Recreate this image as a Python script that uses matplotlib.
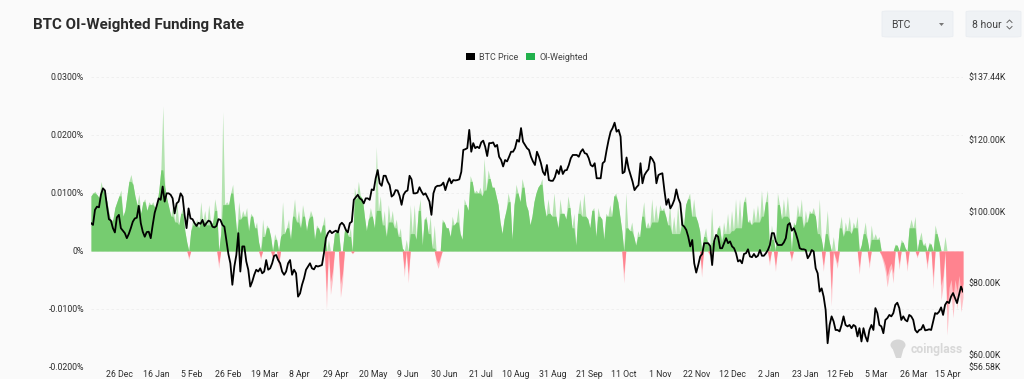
import matplotlib
matplotlib.use("Agg")
import matplotlib.pyplot as plt
import numpy as np
import pandas as pd
from matplotlib.lines import Line2D
from matplotlib.patches import Ellipse, FancyBboxPatch, Patch, Polygon

plt.rcParams['font.family'] = ['Roboto', 'DejaVu Sans']

# funding rate, in units of 0.001%
funding = [
    9.5, 10, 10.3, 9.7, 9.2, 12, 10.5, 9.8, 8.5, 6.5, 5, 5.5, 7.5, 8.5, 9.5, 10.5, 6, 7, 9.5, 12,
    13.2, 11.5, 9.5, 8, 9.8, 6.5, 8.5, 9, 7, 8.5, 8, 8.5, 7.5, 8, 10.5, 14, 25, 11, 9, 7.5,
    6, 8, 5, 8.5, 4.5, 6.5, 7.5, 3.5, 1.5, -1.5, 3.5, 5.5, 4.5, 5.5, 4,
    8.5, 5, 7, 4.5, 8, 4.5, 5, 9, 7, -3, 3, 24, 8, 8.5, 8, 10, 11.5, 7, 3, 8.5,
    5.5, 7, 6, 7.5, 3.5, 6.5, 6, 4, 5, 1.5, -1.5, 5.5, 2.5, 4.5, 4, 2.5, -1.4, 3, 2, -3,
    2.5, 8.5, 3, 4, 5.5, 2, 6, 9, 5, 7, 4, 8, 6, 3.5, 5.5,
    7, 6, 2, 4.5, 4, 3, 4.5, 6, -10, 2, -7.5, -5, 3, 3.5, 4, -8, -5.5, 3.5, 4, 2.5,
    4, -0.5, 11, 9, 12, 9.5, 9, 6, 3.5, 5.5, 7.5, 6, 4, 18, 7, 9.5, 4.5, 7, 2.5, 8,
    5, 7, 4, 5.5, 2.5, 4, 0.5, -4.5, 2, -5.5, 8, 3, 8, 2, 7,
    9, 1, 5.5, 6, 3, 6, 0.5, 4.5, -2, -3, -1.5, 5.5, 5, 4, 4, 2.5, 6, 4.5, 5, 7.5,
    3, 2, 9, 8, 7, 13, 12, 10, 10.5, 10, 11, 9.5, 16, 10.5, 14, 12.5, 11, 11, 9.5, 8,
    5, 3, 5.5, 7, 10, 8.5, 2, 8, 11.5, 10, 8.5, 12.5, 11, 8, 7,
    4.5, 6, 8.5, 10, 11, 11.5, 12.5, 8, 6, 9, 6.5, 6, 10, 6, 4, 9, 6.5, 6.5, 5.5, 9.5,
    7.5, 4, 6.5, 1, 6.5, 9, 6, 10, 6, 5.5, 4, 7, 7.5, 2.5, 7.5, 6, 5.5, 2, 6.5, 6,
    8, 6, 9.5, 10, 8.5, 6, 3.5, -5.5, 10, 4, 3.5, 5, 2.5, 1, 3.5,
    2.5, 6, 8.5, 4, 5, 4, 9, 5, 8, 5, 8, 7, 7.5, 6, 4.5, 8, 3, 6, 3, 8,
    3, 7, 4.5, 8, 9, 10, 6, 9, 6, 5, 3.5, -4.5, 2.5, 4, 1.5, -0.8, 7.5, 1.5, 2, 4,
    4.5, 1.5, 5, 3, 6.5, 3, 7, 3.5, 9, 4, 9, 4, 8.5, 9.5, 5,
    5.5, 4.5, 7.5, 5, 8, 5, 10.5, 6, 8.5, 10.5, -2.5, 4.5, 2, -3.5, 10, 8, 5.5, 9, 6, 9.5,
    5.5, -1.8, 5, 4.5, 8, 6, 9, 4, 7, 5, 7, 6.5, 7.5, 6, 3, 9, 2, -3.5, 3, 7,
    1.5, -9.5, 2.5, -1.5, -3, 4, 6, 2.5, 5, 3.5, 6, 3, 5, 4, 6,
    -4, 1, 3, 5, 2, -3, 4.5, 2, 3, 2, 2.5, -0.8, -2, -3.5, -6.2, -4, -3, -5.5, 1.2, 1,
    -3.2, 2, 1.5, 0.5, -3.5, 4, 5.5, 4, 6, -1.2, 2, 3.3, 1, 1.5, -3.2, 1.5, 1.2, -6.5, 4.5, 3,
    1.5, -8.5, -6, 2.5, -14.5, -9, -7, -11.5, -7, -10, -6, -10.5, -8,
]

# BTC price, in $K
price = [
    96.7, 96.2, 100.4, 101.3, 101.1, 104.6, 106.4, 105.8, 101.5, 97.8, 97.4, 95.3, 94.1, 98.3, 99, 95.3, 94.6, 93.9, 92.5, 93.7,
    95.3, 97.1, 98, 98.2, 101.5, 96.7, 94.3, 92.9, 94.2, 94.3, 92.5, 96.2, 99.6, 101.5, 103.6, 103.2, 106.9, 102.7, 105, 105,
    104.6, 103.6, 99.4, 102.2, 102.7, 105, 104.1, 99, 95.3, 100.8, 98, 97.8, 96.7, 95.9, 96.8,
    96.5, 97.6, 95.9, 96.7, 97.4, 97.1, 95.7, 95.5, 95.9, 97.8, 97.6, 96.2, 95.7, 92, 88.1, 85.5, 79.5, 84.6, 87.8, 93.9,
    83.2, 90.2, 90.2, 86, 83.7, 79, 80.4, 82.3, 83.7, 83.2, 84.1, 82.7, 83.2, 86.4, 83.7, 84.1, 85.5, 87.6, 87.8, 86.4,
    85.5, 83.2, 82.3, 83.2, 85.5, 86.4, 82.3, 83.7, 82.7, 76.2, 77.1, 79.5, 81.3, 83.7, 84.6,
    85.5, 84.1, 83.8, 84.8, 84.6, 84.8, 85, 88.3, 92.5, 93.9, 94.6, 93.9, 94.3, 94.6, 94.1, 96.2, 96.8, 96.2, 94.8, 94.1,
    96.7, 97.1, 103.2, 103.9, 104.6, 103.6, 103.2, 102.2, 103.6, 103.6, 103.2, 106.1, 105.9, 109.2, 111.5, 107.8, 107.1, 109.9, 109.9, 108.3,
    107.3, 104.1, 104.6, 105.9, 105.8, 104.3, 101.8, 104.6, 105.5, 105.8, 109.9, 108.9, 105, 105, 105.2,
    106.7, 105.5, 104.6, 105, 103.9, 102.7, 99, 105, 106.7, 107.1, 107.1, 107.3, 108, 105.9, 107.8, 109.2, 107.8, 108.7, 108.6, 108.7,
    108.9, 111, 117.1, 117.3, 117.6, 122.7, 116.6, 119, 117.6, 118, 117.6, 119.2, 119.7, 118, 115.4, 119, 119, 119.2, 118, 118.5,
    115.2, 114.3, 112.5, 114.3, 113.9, 115.2, 116.6, 116.6, 117.6, 119.9, 119.4, 123.2, 119.4, 118.5, 117.6,
    117.1, 115.2, 113.9, 112.9, 116.6, 115.2, 113.4, 111, 110.1, 112.9, 108.7, 108.5, 108.5, 109.5, 111.5, 110.4, 112.6, 110.4, 111.4, 111.5,
    112.9, 114.8, 115.7, 115.7, 115.7, 115.2, 116.6, 117.3, 116.2, 116, 114.8, 112.9, 112.5, 113.4, 109.2, 109.2, 109.2, 113.4, 113.9, 117.1,
    119.9, 122.2, 123.2, 124.7, 122.2, 122.7, 120.8, 110.6, 111, 115, 112, 110.1, 108.3, 105.9, 106.7,
    107.3, 113.4, 107.8, 110.1, 111, 111.7, 115.2, 114.5, 113.4, 107.8, 110.1, 110.4, 110.6, 105.9, 101.8, 103.4, 100.8, 101.8, 103.2, 106.1,
    103.6, 102.2, 96.2, 95.7, 94.8, 92.9, 90.2, 92, 85.5, 82.9, 85, 87.4, 88.1, 91.1, 91.1, 91.1, 90.3, 85, 91.6, 93.4,
    92.9, 89.7, 89.7, 91.1, 92.5, 91.1, 91.6, 90.2, 89.7, 88.3, 86, 86.4, 85.5, 88.1, 88.3,
    89.4, 87.4, 87.2, 88.1, 87.2, 87.6, 89.2, 87.6, 87.6, 88.3, 89.2, 90.6, 93.9, 93.9, 91.6, 90.6, 90.6, 90.6, 91.3, 92.5,
    96.2, 96.7, 94.6, 95.3, 93.9, 92, 89.7, 89.4, 89.4, 89.2, 86.9, 87.8, 89.2, 88.8, 84.1, 82.7, 77.6, 78.5, 76.2, 72.5,
    63.2, 68.3, 70.7, 69.3, 66.9, 66.9, 66.5, 68.3, 70.7, 68.3, 67.9, 68.3, 67.4, 68.3, 67.9, 65.1,
    67.4, 63.7, 67.4, 65.1, 63.7, 66.9, 68.3, 66.9, 73, 71.6, 68.3, 67.9, 66, 69.7, 70.2, 71.1, 70.7, 71.6, 73.9, 74.5,
    73, 69.7, 70.7, 69.7, 69.3, 71.1, 70.7, 69.7, 66.9, 66.2, 66.9, 67.1, 68.3, 66.8, 66.9, 67.1, 66.9, 69.3, 71.6, 71.4,
    72, 73.2, 71.1, 73.9, 74.8, 74.4, 76.2, 77.2, 75.8, 74.4, 76.7, 79, 77.6,
]

date_labels = ['26 Dec', '16 Jan', '5 Feb', '26 Feb', '19 Mar', '8 Apr', '29 Apr', '20 May',
               '9 Jun', '30 Jun', '21 Jul', '10 Aug', '31 Aug', '21 Sep', '11 Oct', '1 Nov',
               '22 Nov', '12 Dec', '2 Jan', '23 Jan', '12 Feb', '5 Mar', '26 Mar', '15 Apr']
tick_dates = pd.to_datetime(['2024-12-26', '2025-01-16', '2025-02-05', '2025-02-26', '2025-03-19',
                             '2025-04-08', '2025-04-29', '2025-05-20', '2025-06-09', '2025-06-30',
                             '2025-07-21', '2025-08-10', '2025-08-31', '2025-09-21', '2025-10-11',
                             '2025-11-01', '2025-11-22', '2025-12-12', '2026-01-02', '2026-01-23',
                             '2026-02-12', '2026-03-05', '2026-03-26', '2026-04-15'])
first_date = pd.Timestamp('2024-12-09 10:00')
last_date = pd.Timestamp('2026-04-23 12:00')

funding_ticks = [-0.02, -0.01, 0, 0.01, 0.02, 0.03]
funding_labels = ['-0.0200%', '-0.0100%', '0%', '0.0100%', '0.0200%', '0.0300%']
price_ticks = [56.58, 60, 80, 100, 120, 137.44]
price_labels = ['$56.58K', '$60.00K', '$80.00K', '$100.00K', '$120.00K', '$137.44K']

BG = '#fafafa'
GREEN = '#76cc70'
GREEN_PALE = '#b4e3b0'
RED = '#ff838f'
RED_PALE = '#ffc0c6'
TEXT = '#2e2e2e'
W, H = 1024, 379


def fx(px):
    return px / W


def fy(py):
    return 1 - py / H


def draw_header(fig):
    """Title, the two dropdown buttons and the legend"""
    fig.text(fx(33), fy(25), 'BTC OI-Weighted Funding Rate', fontsize=10.9, fontweight='bold',
             color='#2b2b2b', va='center', ha='left')
    for x0, x1 in [(882, 953), (966, 1021)]:
        fig.add_artist(FancyBboxPatch((fx(x0), fy(37)), fx(x1 - x0), 26 / H,
                                      boxstyle='round,pad=0,rounding_size=0.006',
                                      transform=fig.transFigure, mutation_aspect=H / W * 1.0,
                                      fc='#eff2f5', ec='#e9edf1', lw=0.6))
    fig.text(fx(891), fy(24.5), 'BTC', fontsize=7.5, color='#444444', va='center')
    fig.text(fx(972), fy(24.5), '8 hour', fontsize=7.5, color='#444444', va='center')
    # caret of the first button, chevrons of the second
    fig.add_artist(Polygon([(fx(939), fy(23)), (fx(944), fy(23)), (fx(941.5), fy(26))],
                           transform=fig.transFigure, fc='#777777', ec='none'))
    for y0, y1 in [(22.5, 20), (26.5, 29)]:
        fig.add_artist(Line2D([fx(1007), fx(1009.5), fx(1012)], [fy(y0), fy(y1), fy(y0)],
                              transform=fig.transFigure, color='#666666', lw=0.7))
    handles = [Patch(fc='black', ec='none', label='BTC Price'),
               Patch(fc='#22b14c', ec='none', label='OI-Weighted')]
    fig.legend(handles=handles, loc='center', bbox_to_anchor=(fx(527), fy(57)), ncol=2,
               frameon=False, fontsize=6.5, handlelength=0.9, handleheight=0.9,
               handletextpad=0.5, columnspacing=0.9, labelcolor='#444444')


def draw_logo(fig):
    """Faded watermark in the lower right corner"""
    c = '#d6d6d6'
    fig.add_artist(Ellipse((fx(898), fy(345)), 15 / W, 11 / H, transform=fig.transFigure,
                           fc=c, ec='none'))
    fig.add_artist(Polygon([(fx(892), fy(347)), (fx(904), fy(347)), (fx(901), fy(358)), (fx(896), fy(358))],
                           transform=fig.transFigure, fc=c, ec='none'))
    fig.text(fx(911), fy(349), 'coinglass', fontsize=8.7, fontweight='bold', color='#d8d8d8',
             va='center', ha='left')


def main():
    dates = pd.date_range(first_date, last_date, periods=len(funding))
    price_dates = pd.date_range(first_date, last_date, periods=len(price))
    rate = pd.Series(funding) * 0.001
    pos = rate.clip(lower=0)
    neg = rate.clip(upper=0)
    # solid body, only the tips of the spikes stay pale
    pos_core = pos.rolling(3, center=True, min_periods=1).median()
    neg_core = neg * 0.7

    fig = plt.figure(figsize=(W / 100, H / 100), dpi=100, facecolor=BG)
    ax = fig.add_axes([fx(91), fy(367), fx(963 - 91), (367 - 77) / H], facecolor=BG)

    ax.fill_between(dates, 0, pos, color=GREEN_PALE, lw=0)
    ax.fill_between(dates, 0, neg, color=RED_PALE, lw=0)
    ax.fill_between(dates, 0, np.minimum(pos_core, pos), color=GREEN, lw=0)
    ax.fill_between(dates, 0, neg_core, color=RED, lw=0)
    ax.set_ylim(-0.02, 0.03)
    ax.set_xlim(first_date, last_date)
    ax.set_yticks(funding_ticks, funding_labels)
    ax.set_xticks(tick_dates, date_labels)
    ax.grid(axis='y', color='#eeeeee', lw=0.6, ls=(0, (3, 3)))
    ax.set_axisbelow(True)
    ax.tick_params(length=0, labelsize=6.3, labelcolor=TEXT)
    ax.tick_params(axis='x', pad=2.5)
    ax.tick_params(axis='y', pad=5)

    ax2 = ax.twinx()
    ax2.plot(price_dates, price, color='black', lw=1.3, solid_joinstyle='round')
    ax2.set_ylim(56.58, 137.44)
    ax2.set_yticks(price_ticks, price_labels)
    ax2.tick_params(length=0, labelsize=6.3, labelcolor=TEXT, pad=4)

    for a in (ax, ax2):
        for spine in a.spines.values():
            spine.set_visible(False)

    draw_header(fig)
    draw_logo(fig)
    fig.savefig('out.png', dpi=100, facecolor=BG)
    plt.close(fig)


if __name__ == "__main__":
    main()
